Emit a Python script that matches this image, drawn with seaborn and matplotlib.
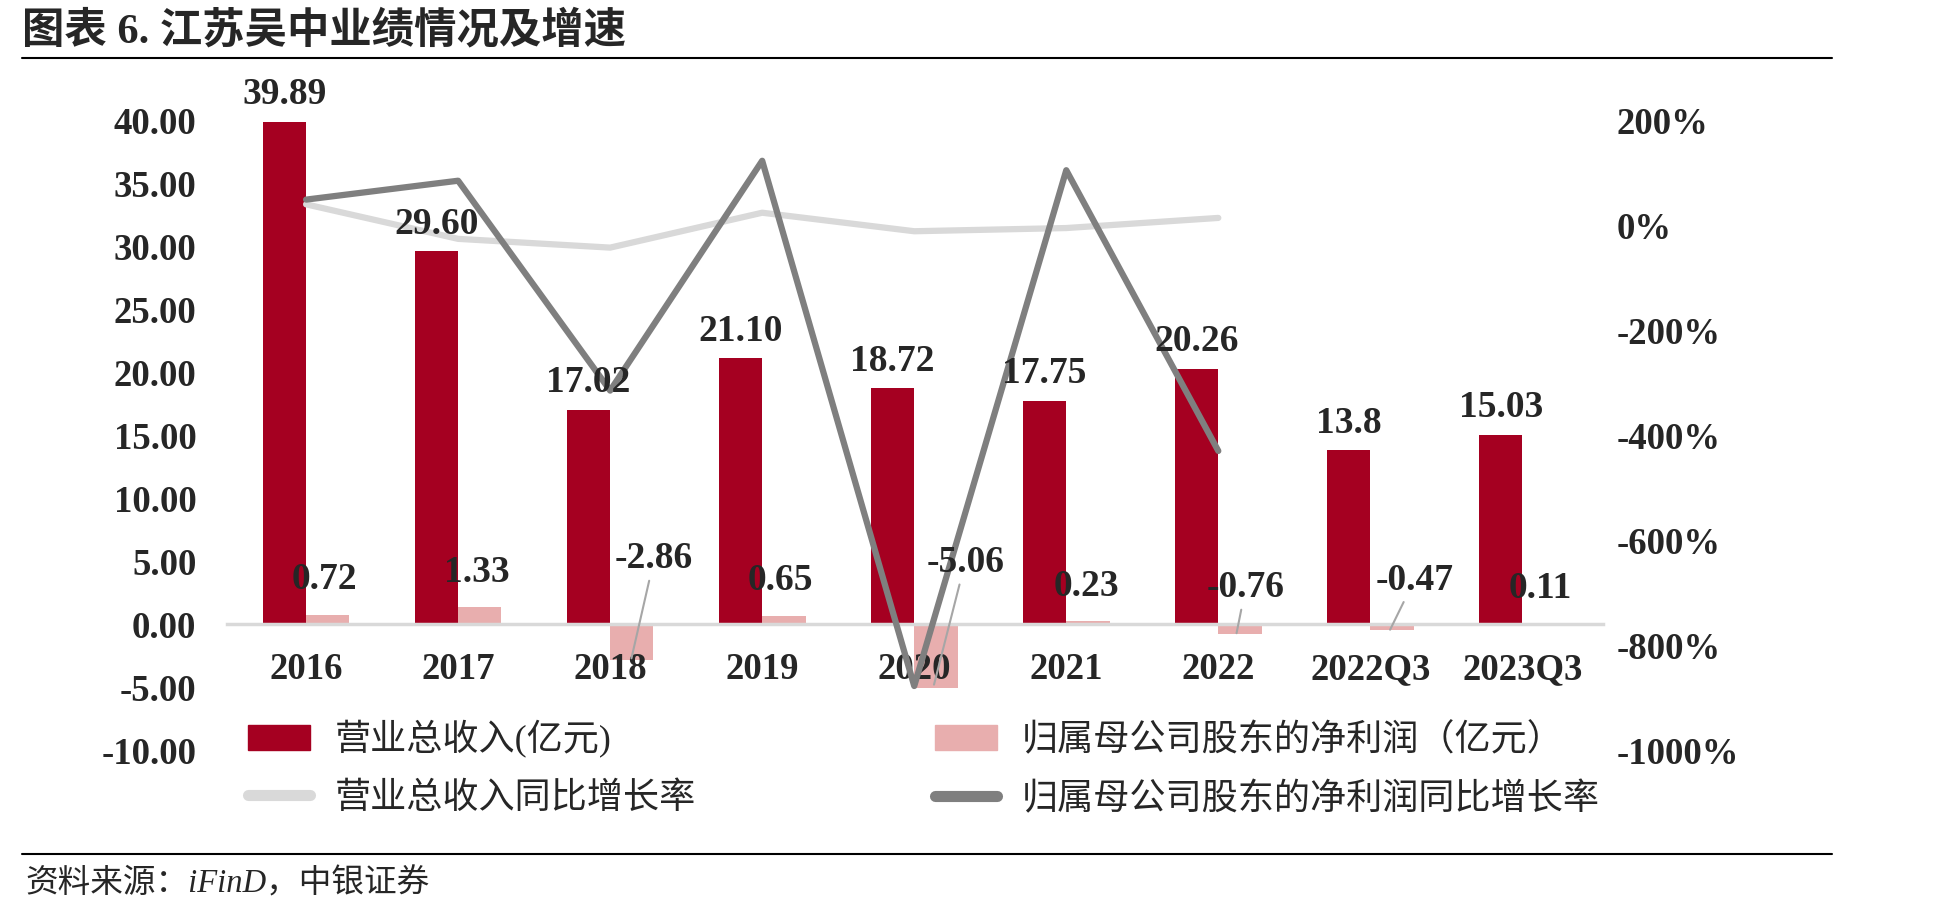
import numpy as np, pandas as pd
import matplotlib; matplotlib.use('Agg')
import matplotlib.pyplot as plt
from matplotlib.lines import Line2D
from matplotlib.patches import Patch
import seaborn as sns

categories = ['2016', '2017', '2018', '2019', '2020', '2021', '2022', '2022Q3', '2023Q3']
revenue = [39.89, 29.60, 17.02, 21.10, 18.72, 17.75, 20.26, 13.8, 15.03]
revenue_text = ['39.89', '29.60', '17.02', '21.10', '18.72', '17.75', '20.26', '13.8', '15.03']
profit = [0.72, 1.33, -2.86, 0.65, -5.06, 0.23, -0.76, -0.47, 0.11]
profit_text = ['0.72', '1.33', '-2.86', '0.65', '-5.06', '0.23', '-0.76', '-0.47', '0.11']
# YoY growth in %, only 2016-2022
rev_growth = [40, -25.8, -42.5, 24.0, -11.3, -5.2, 14.1]
profit_growth = [49, 85, -315, 123, -878, 105, -430]
left_ticks = np.arange(-10, 41, 5)
right_ticks = np.arange(-1000, 201, 200)

S_REV = '营业总收入(亿元)'
S_PROF = '归属母公司股东的净利润（亿元）'
S_REVG = '营业总收入同比增长率'
S_PROFG = '归属母公司股东的净利润同比增长率'

RED, PINK = '#A50021', '#E8AEAE'
LIGHT, DARK = '#D9D9D9', '#7F7F7F'
FAM = ['Liberation Serif', 'Noto Sans CJK SC']
NUMSIZE = 27

# placement of the net-profit labels (x offset from category, y in data units)
lab_dx = [0.12, 0.12, 0.29, 0.12, 0.335, 0.13, 0.18, 0.29, 0.12]
lab_y = [3.57, 4.1, 5.2, 3.43, 4.9, 3.0, 2.9, 3.5, 2.8]
leader_dx = {2: 0.14, 4: 0.13, 6: 0.12, 7: 0.13}

sns.set_style('white')
plt.rcParams['font.family'] = FAM

df = pd.DataFrame({'cat': categories * 2,
                   'value': revenue + profit,
                   'series': [S_REV] * len(categories) + [S_PROF] * len(categories)})

fig = plt.figure(figsize=(19.47, 9.14), dpi=100)
ax = fig.add_axes([0.1166, 0.1794, 0.7067, 0.6889])

sns.barplot(data=df, x='cat', y='value', hue='series', order=categories,
            hue_order=[S_REV, S_PROF], palette=[RED, PINK], width=0.57,
            saturation=1, linewidth=0, errorbar=None, legend=False, ax=ax)
ax.set_axisbelow(False)

ax.set_ylim(-10, 40)
ax.set_yticks(left_ticks)
ax.set_yticklabels([f'{v:.2f}' for v in left_ticks])
ax.set_xlabel(''); ax.set_ylabel('')
for s in ['top', 'left', 'right']:
    ax.spines[s].set_visible(False)
ax.spines['bottom'].set_position(('data', 0))
ax.spines['bottom'].set_color(LIGHT)
ax.spines['bottom'].set_linewidth(2.5)
ax.tick_params(axis='x', length=0, pad=20, labelsize=26.5)
ax.tick_params(axis='y', length=0, pad=22, labelsize=26.5)
for lbl in ax.get_xticklabels() + ax.get_yticklabels():
    lbl.set_fontweight('bold')

ax2 = ax.twinx()
sns.lineplot(x=np.arange(len(rev_growth)), y=rev_growth, ax=ax2, color=LIGHT,
             linewidth=4.5, solid_capstyle='round')
sns.lineplot(x=np.arange(len(profit_growth)), y=profit_growth, ax=ax2, color=DARK,
             linewidth=4.5, solid_capstyle='round')
ax2.set_ylim(-1000, 200)
ax2.set_yticks(right_ticks)
ax2.set_yticklabels([f'{v}%' for v in right_ticks])
ax2.set_xlabel(''); ax2.set_ylabel('')
for s in ax2.spines.values():
    s.set_visible(False)
ax2.tick_params(axis='y', length=0, pad=10, labelsize=26.5)
for lbl in ax2.get_yticklabels():
    lbl.set_fontweight('bold')
ax.set_xlim(-0.52, 8.53)

# value labels go on the top axes so the lines do not cover them
for p, t in zip(ax.containers[0], revenue_text):
    ax2.annotate(t, xy=(p.get_x() + p.get_width() / 2, p.get_height()), xycoords=ax.transData,
                 xytext=(0, 7), textcoords='offset points', ha='center', va='bottom',
                 fontsize=NUMSIZE, fontweight='bold')

for i, (v, t) in enumerate(zip(profit, profit_text)):
    if i in leader_dx:
        ax2.annotate(t, xy=(i + leader_dx[i], v * 0.95), xycoords=ax.transData,
                     xytext=(i + lab_dx[i], lab_y[i]), textcoords=ax.transData,
                     ha='center', va='center', fontsize=NUMSIZE, fontweight='bold',
                     arrowprops=dict(arrowstyle='-', color='#A6A6A6', lw=1.5,
                                     shrinkA=1, shrinkB=0))
    else:
        ax2.text(i + lab_dx[i], lab_y[i], t, transform=ax.transData, ha='center', va='center',
                 fontsize=NUMSIZE, fontweight='bold')

handles = [Patch(color=RED), Line2D([], [], color=LIGHT, lw=8, solid_capstyle='round'),
           Patch(color=PINK), Line2D([], [], color=DARK, lw=8, solid_capstyle='round')]
fig.legend(handles, [S_REV, S_REVG, S_PROF, S_PROFG], ncol=2, loc='upper left',
           bbox_to_anchor=(0.1274, 0.2119), frameon=False, prop={'family': FAM, 'size': 26},
           handlelength=1.72, handletextpad=0.69, columnspacing=6.6, labelspacing=0.67,
           borderpad=0, borderaxespad=0)

fig.text(0.0113, 0.966, '图表 6. 江苏吴中业绩情况及增速', fontsize=30.5, fontweight='bold', va='center')
fig.add_artist(Line2D([0.0113, 0.941], [0.9365, 0.9365], color='black', lw=1.5))
fig.add_artist(Line2D([0.0113, 0.941], [0.0656, 0.0656], color='black', lw=1.5))
fig.text(0.0128, 0.033, '资料来源：iFinD，中银证券', fontsize=23.5, style='italic', va='center')

fig.savefig('out.png', dpi=100)
